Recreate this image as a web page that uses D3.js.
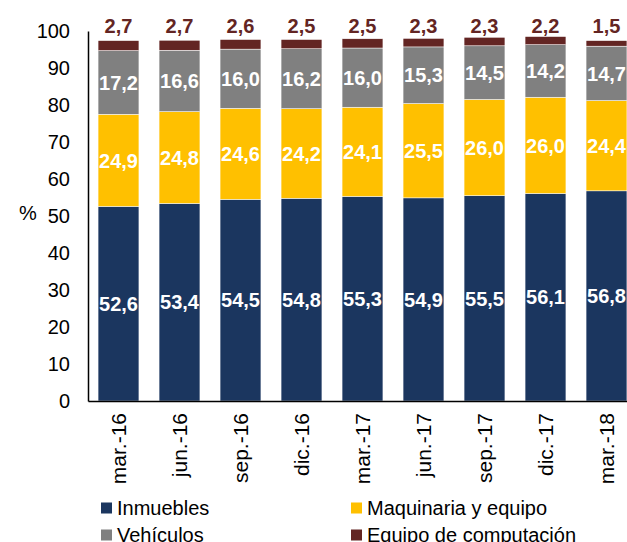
<!DOCTYPE html>
<html><head><meta charset="utf-8">
<script src="https://cdn.jsdelivr.net/npm/d3@7"></script>
<style>body{margin:0;background:#fff;overflow:hidden}svg{display:block}</style>
</head><body>
<svg id="c" width="627" height="542"></svg>
<script>
const categories = ["mar.-16","jun.-16","sep.-16","dic.-16","mar.-17","jun.-17","sep.-17","dic.-17","mar.-18"];
const inmuebles = [52.6,53.4,54.5,54.8,55.3,54.9,55.5,56.1,56.8];
const maquinaria = [24.9,24.8,24.6,24.2,24.1,25.5,26.0,26.0,24.4];
const vehiculos = [17.2,16.6,16.0,16.2,16.0,15.3,14.5,14.2,14.7];
const computacion = [2.7,2.7,2.6,2.5,2.5,2.3,2.3,2.2,1.5];
const seriesNames = ["Inmuebles","Maquinaria y equipo","Vehículos","Equipo de computación"];
const yTicks = [0,10,20,30,40,50,60,70,80,90,100];

const colors = ["#1b365f","#ffc000","#808080","#632523"];
const font = "Arial, 'Liberation Sans', sans-serif";
const svg = d3.select("#c");

const x = d3.scaleBand().domain(categories).range([88, 637]).paddingInner(0.33).paddingOuter(0.165);
const y = d3.scaleLinear().domain([0,100]).range([401, 31]);

const rows = categories.map((c,i)=>({cat:c, v:[inmuebles[i],maquinaria[i],vehiculos[i],computacion[i]]}));
const stack = d3.stack().keys([0,1,2,3]).value((d,k)=>d.v[k]);
const stacked = stack(rows);

const g = svg.append("g");
stacked.forEach((s,k)=>{
  g.selectAll(null).data(s).enter().append("rect")
    .attr("x", d=>x(d.data.cat))
    .attr("width", x.bandwidth())
    .attr("y", d=>y(d[1]))
    .attr("height", d=>y(d[0])-y(d[1]))
    .attr("fill", colors[k])
    .attr("stroke","#ffffff").attr("stroke-width",0.5);
});

// inner labels
stacked.slice(0,3).forEach((s,k)=>{
  g.selectAll(null).data(s).enter().append("text")
    .attr("x", d=>x(d.data.cat)+x.bandwidth()/2)
    .attr("y", d=>y((d[0]+d[1])/2))
    .attr("dy","0.36em")
    .attr("text-anchor","middle")
    .attr("font-family",font).attr("font-weight","bold").attr("font-size","20px")
    .attr("fill","#ffffff")
    .text(d=>d3.format(".1f")(d.data.v[k]).replace(".",","));
});
// top labels
g.selectAll(null).data(stacked[3]).enter().append("text")
  .attr("x", d=>x(d.data.cat)+x.bandwidth()/2)
  .attr("y", 33)
  .attr("text-anchor","middle")
  .attr("font-family",font).attr("font-weight","bold").attr("font-size","20px")
  .attr("fill","#632523")
  .text(d=>d3.format(".1f")(d.data.v[3]).replace(".",","));

// y axis
const ya = svg.append("g").attr("transform","translate(88,0)")
  .call(d3.axisLeft(y).tickValues(yTicks).tickSize(0).tickPadding(18));
ya.select(".domain").attr("stroke","#000").attr("stroke-width",1.5);
ya.selectAll("text").attr("font-family",font).attr("font-size","20px").attr("fill","#000");

// x axis
const xa = svg.append("g").attr("transform","translate(0,401)")
  .call(d3.axisBottom(x).tickSize(0).tickSizeOuter(0));
xa.select(".domain").attr("stroke","#000").attr("stroke-width",1.5);
xa.selectAll("text")
  .attr("font-family",font).attr("font-size","21px").attr("fill","#000")
  .attr("text-anchor","end")
  .attr("transform","rotate(-90)")
  .attr("x",-12).attr("y",0).attr("dy","0.35em");

svg.append("text").attr("x",28).attr("y",220).attr("text-anchor","middle")
  .attr("font-family",font).attr("font-size","20px").text("%");

// legend
const legPos = [[101,508],[351,508],[101,535],[351,535]];
seriesNames.forEach((n,k)=>{
  const [lx,ly] = legPos[k];
  svg.append("rect").attr("x",lx).attr("y",ly-5.5).attr("width",11).attr("height",11).attr("fill",colors[k]);
  svg.append("text").attr("x",lx+16).attr("y",ly).attr("dy","0.36em")
    .attr("font-family",font).attr("font-size","20px").attr("fill","#000").text(n);
});
</script>
</body></html>
